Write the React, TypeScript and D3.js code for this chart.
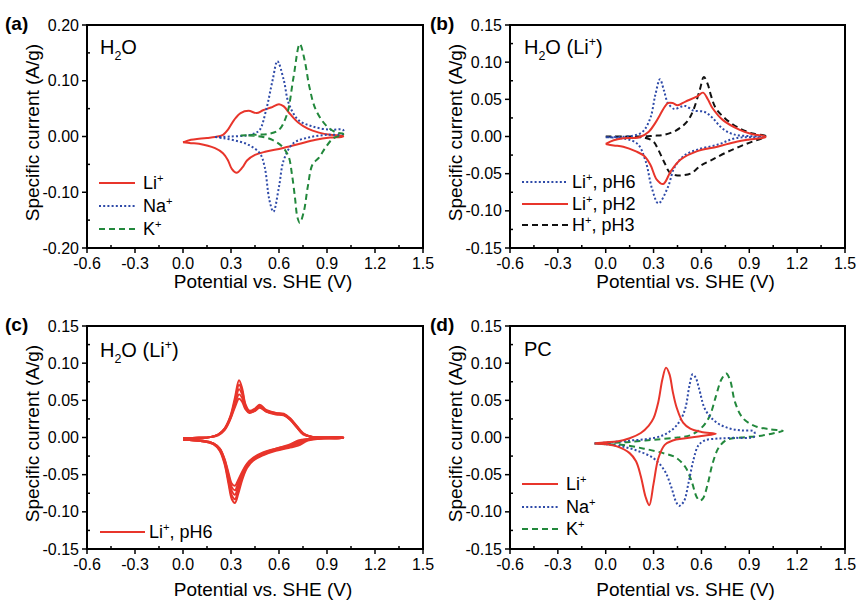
import React, { useEffect, useRef } from 'react';
import * as d3 from 'd3';

type Pt = [number, number];
type Part = [string, 'n' | 'sup' | 'sub'];

const W = 861;
const H = 603;
const FONT = "'Liberation Sans', Arial, Helvetica, sans-serif";

const RED = '#e8352b';
const BLUE = '#2e4aa8';
const GREEN = '#22883c';
const BLACK = '#111111';
const DOT = '2,2.2';
const DASH = '6,4';

const xTicks = [-0.6, -0.3, 0, 0.3, 0.6, 0.9, 1.2, 1.5];
const yTicksWide = [-0.2, -0.1, 0, 0.1, 0.2];
const yTicksNarrow = [-0.15, -0.1, -0.05, 0, 0.05, 0.1, 0.15];

// (a) H2O, Li+ / Na+ / K+  -- [potential V, current A/g], anodic sweep then cathodic back
const aLi: Pt[] = [
  [0.0, -0.0105], [0.05, -0.006], [0.1, -0.004], [0.15, -0.0025], [0.2, -0.001], [0.25, 0.003],
  [0.28, 0.012], [0.32, 0.03], [0.36, 0.042], [0.41, 0.046], [0.46, 0.042], [0.5, 0.047],
  [0.55, 0.052], [0.6, 0.058], [0.63, 0.054], [0.67, 0.04], [0.72, 0.025], [0.78, 0.014],
  [0.85, 0.007], [0.92, 0.003], [1.0, 0.001],
  [1.0, 0.0], [0.92, -0.002], [0.83, -0.006], [0.73, -0.013], [0.62, -0.021], [0.52, -0.027],
  [0.45, -0.033], [0.4, -0.043], [0.37, -0.056], [0.335, -0.065], [0.305, -0.058], [0.28, -0.042],
  [0.25, -0.03], [0.2, -0.021], [0.1, -0.013], [0.05, -0.012], [0.0, -0.0105],
];
const aNa: Pt[] = [
  [0.2, -0.001], [0.3, 0.0], [0.4, 0.002], [0.45, 0.006], [0.48, 0.012], [0.52, 0.048],
  [0.56, 0.101], [0.59, 0.135], [0.63, 0.101], [0.66, 0.06], [0.72, 0.03], [0.81, 0.018],
  [0.92, 0.012], [1.0, 0.012],
  [1.0, 0.005], [0.9, 0.003], [0.79, -0.0015], [0.69, -0.012], [0.63, -0.042], [0.6, -0.09],
  [0.565, -0.135], [0.54, -0.114], [0.51, -0.054], [0.48, -0.03], [0.41, -0.015], [0.33, -0.0075],
  [0.25, -0.003], [0.2, -0.001],
];
const aK: Pt[] = [
  [0.36, 0.002], [0.45, 0.003], [0.54, 0.005], [0.6, 0.012], [0.65, 0.04], [0.69, 0.105],
  [0.73, 0.166], [0.76, 0.137], [0.79, 0.089], [0.83, 0.048], [0.9, 0.018], [0.96, 0.007],
  [1.0, 0.005],
  [1.0, 0.003], [0.94, -0.003], [0.89, -0.02], [0.85, -0.038], [0.81, -0.05], [0.78, -0.09],
  [0.755, -0.135], [0.73, -0.155], [0.715, -0.145], [0.7, -0.11], [0.68, -0.066], [0.66, -0.036],
  [0.62, -0.018], [0.55, -0.005], [0.46, 0.001], [0.36, 0.002],
];

// (b) H2O (Li+), pH series
const bPH6: Pt[] = [
  [0.0, -0.001], [0.1, -0.0005], [0.17, 0.001], [0.23, 0.006], [0.28, 0.025], [0.31, 0.055],
  [0.34, 0.077], [0.365, 0.062], [0.39, 0.045], [0.43, 0.037], [0.47, 0.04], [0.5, 0.041],
  [0.55, 0.035], [0.62, 0.033], [0.67, 0.025], [0.73, 0.011], [0.8, 0.003], [0.9, 0.0005], [1.0, 0.0],
  [1.0, -0.0005], [0.82, -0.002], [0.7, -0.011], [0.57, -0.018], [0.49, -0.026], [0.43, -0.042],
  [0.39, -0.068], [0.33, -0.09], [0.29, -0.07], [0.25, -0.033], [0.2, -0.01], [0.12, -0.003], [0.0, -0.001],
];
const bPH2: Pt[] = [
  [0.0, -0.01], [0.05, -0.005], [0.11, -0.0025], [0.21, -0.001], [0.27, 0.0065], [0.31, 0.018],
  [0.34, 0.029], [0.37, 0.04], [0.39, 0.045], [0.42, 0.045], [0.45, 0.042], [0.5, 0.047],
  [0.57, 0.0535], [0.61, 0.059], [0.64, 0.05], [0.67, 0.038], [0.735, 0.022], [0.84, 0.009],
  [0.92, 0.003], [1.0, 0.0],
  [1.0, -0.001], [0.9, -0.004], [0.82, -0.007], [0.7, -0.0137], [0.57, -0.02], [0.47, -0.031],
  [0.41, -0.046], [0.36, -0.064], [0.32, -0.058], [0.28, -0.038], [0.24, -0.026], [0.19, -0.02],
  [0.11, -0.0137], [0.05, -0.012], [0.0, -0.01],
];
const bH3: Pt[] = [
  [0.0, 0.0], [0.15, 0.0], [0.23, 0.0], [0.3, 0.001], [0.36, 0.002], [0.44, 0.008], [0.51, 0.02],
  [0.55, 0.036], [0.59, 0.063], [0.615, 0.08], [0.64, 0.07], [0.66, 0.055], [0.69, 0.038],
  [0.75, 0.024], [0.83, 0.012], [0.92, 0.004], [1.0, 0.001],
  [1.0, 0.0], [0.88, -0.01], [0.76, -0.021], [0.66, -0.032], [0.59, -0.04], [0.54, -0.049],
  [0.49, -0.052], [0.44, -0.052], [0.4, -0.048], [0.37, -0.036], [0.33, -0.018], [0.3, -0.007],
  [0.25, -0.002], [0.15, -0.0005], [0.0, 0.0],
];

// (c) repeated cycles, pH6 -- shared potentials, one current list per cycle
const cycV = [
  0.0, 0.1, 0.17, 0.22, 0.26, 0.295, 0.325, 0.35, 0.37, 0.39, 0.415, 0.45, 0.48, 0.52, 0.58, 0.63,
  0.67, 0.71, 0.75, 0.8, 0.88, 1.0,
  1.0, 0.88, 0.78, 0.72, 0.66, 0.58, 0.5, 0.44, 0.4, 0.37, 0.345, 0.325, 0.305, 0.285, 0.26, 0.23,
  0.19, 0.12, 0.0,
];
const cyc1 = [
  -0.001, -0.0005, 0.0005, 0.004, 0.012, 0.028, 0.054, 0.077, 0.066, 0.045, 0.036, 0.039, 0.044,
  0.037, 0.033, 0.032, 0.026, 0.016, 0.006, 0.001, 0.0, 0.0,
  -0.0005, -0.001, -0.004, -0.011, -0.014, -0.018, -0.024, -0.031, -0.041, -0.057, -0.076, -0.088,
  -0.083, -0.063, -0.036, -0.018, -0.009, -0.005, -0.003,
];
const cyc2 = [
  -0.001, -0.0005, 0.0005, 0.004, 0.012, 0.027, 0.05, 0.071, 0.062, 0.043, 0.035, 0.038, 0.043,
  0.036, 0.033, 0.031, 0.025, 0.015, 0.005, 0.001, 0.0, 0.0,
  -0.0005, -0.001, -0.003, -0.009, -0.013, -0.017, -0.023, -0.03, -0.039, -0.054, -0.071, -0.083,
  -0.078, -0.059, -0.034, -0.017, -0.009, -0.005, -0.003,
];
const cyc3 = [
  -0.001, -0.0005, 0.0005, 0.004, 0.011, 0.026, 0.047, 0.065, 0.058, 0.041, 0.034, 0.037, 0.042,
  0.036, 0.032, 0.031, 0.025, 0.015, 0.005, 0.001, 0.0, 0.0,
  -0.0005, -0.001, -0.003, -0.007, -0.012, -0.016, -0.022, -0.029, -0.037, -0.051, -0.066, -0.077,
  -0.072, -0.055, -0.032, -0.016, -0.008, -0.005, -0.003,
];
const cyc4 = [
  -0.001, -0.0005, 0.0005, 0.004, 0.011, 0.025, 0.044, 0.058, 0.053, 0.04, 0.034, 0.036, 0.041,
  0.035, 0.032, 0.03, 0.024, 0.014, 0.005, 0.001, 0.0, 0.0,
  -0.0005, -0.001, -0.002, -0.005, -0.011, -0.015, -0.021, -0.028, -0.036, -0.048, -0.061, -0.071,
  -0.067, -0.051, -0.03, -0.015, -0.008, -0.004, -0.003,
];
const cyc5 = [
  -0.001, -0.0005, 0.0005, 0.003, 0.01, 0.024, 0.041, 0.052, 0.048, 0.038, 0.033, 0.036, 0.04,
  0.035, 0.031, 0.03, 0.024, 0.014, 0.004, 0.001, 0.0, 0.0,
  -0.0005, -0.001, -0.002, -0.004, -0.01, -0.015, -0.02, -0.027, -0.035, -0.046, -0.057, -0.065,
  -0.062, -0.048, -0.029, -0.015, -0.008, -0.004, -0.003,
];

// (d) PC, Li+ / Na+ / K+
const dLi: Pt[] = [
  [-0.07, -0.008], [0.0, -0.0065], [0.07, -0.0055], [0.15, -0.001], [0.22, 0.006], [0.27, 0.016],
  [0.3, 0.026], [0.33, 0.048], [0.355, 0.078], [0.378, 0.094], [0.4, 0.085], [0.42, 0.062],
  [0.445, 0.04], [0.485, 0.02], [0.53, 0.012], [0.6, 0.0075], [0.69, 0.005],
  [0.6, 0.002], [0.5, -0.001], [0.42, -0.004], [0.37, -0.01], [0.33, -0.028], [0.3, -0.062],
  [0.273, -0.091], [0.25, -0.08], [0.22, -0.052], [0.19, -0.032], [0.15, -0.021], [0.07, -0.012],
  [0.0, -0.009], [-0.07, -0.008],
];
const dNa: Pt[] = [
  [-0.07, -0.008], [0.05, -0.006], [0.15, -0.004], [0.26, -0.002], [0.36, 0.003], [0.43, 0.013],
  [0.47, 0.024], [0.5, 0.04], [0.525, 0.07], [0.545, 0.085], [0.565, 0.08], [0.585, 0.066],
  [0.625, 0.037], [0.69, 0.021], [0.77, 0.0125], [0.85, 0.0095], [0.93, 0.008],
  [0.93, 0.001], [0.8, -0.0005], [0.7, -0.0015], [0.62, -0.004], [0.58, -0.011], [0.55, -0.03],
  [0.52, -0.06], [0.49, -0.086], [0.46, -0.092], [0.44, -0.086], [0.41, -0.066], [0.37, -0.045],
  [0.3, -0.028], [0.2, -0.018], [0.1, -0.012], [0.0, -0.009], [-0.07, -0.008],
];
const dK: Pt[] = [
  [-0.07, -0.008], [0.05, -0.007], [0.15, -0.006], [0.3, -0.003], [0.45, 0.0], [0.53, 0.003],
  [0.6, 0.013], [0.65, 0.028], [0.69, 0.055], [0.725, 0.078], [0.755, 0.086], [0.78, 0.077],
  [0.81, 0.048], [0.86, 0.026], [0.94, 0.015], [1.03, 0.011], [1.11, 0.009],
  [1.06, 0.006], [0.96, 0.002], [0.85, 0.0], [0.76, -0.003], [0.71, -0.013], [0.67, -0.035],
  [0.64, -0.062], [0.61, -0.082], [0.59, -0.085], [0.57, -0.08], [0.54, -0.06], [0.5, -0.04],
  [0.44, -0.027], [0.36, -0.021], [0.24, -0.015], [0.11, -0.01], [0.0, -0.009], [-0.07, -0.008],
];

const zipCycle = (cur: number[]): Pt[] => cycV.map((v, i) => [v, cur[i]]);

const liPlus: Part[] = [['Li', 'n'], ['+', 'sup']];
const naPlus: Part[] = [['Na', 'n'], ['+', 'sup']];
const kPlus: Part[] = [['K', 'n'], ['+', 'sup']];
const h2o: Part[] = [['H', 'n'], ['2', 'sub'], ['O', 'n']];
const h2oLi: Part[] = [['H', 'n'], ['2', 'sub'], ['O (Li', 'n'], ['+', 'sup'], [')', 'n']];

const panels = [
  {
    tag: '(a)', tagX: 5, x0: 87, x1: 423, y0: 25, y1: 248, yDomain: [-0.2, 0.2], yTicks: yTicksWide,
    titleDy: 40, note: h2o, noteX: 100, noteY: 54,
    series: [
      { data: aLi, color: RED, dash: null },
      { data: aNa, color: BLUE, dash: DOT },
      { data: aK, color: GREEN, dash: DASH },
    ],
    legend: { lx0: 99, lx1: 135, tx: 143, rows: [183, 206, 229],
      items: [
        { parts: liPlus, color: RED, dash: null },
        { parts: naPlus, color: BLUE, dash: DOT },
        { parts: kPlus, color: GREEN, dash: DASH },
      ] },
  },
  {
    tag: '(b)', tagX: 430, x0: 510, x1: 845, y0: 25, y1: 248, yDomain: [-0.15, 0.15], yTicks: yTicksNarrow,
    titleDy: 40, note: h2oLi, noteX: 524, noteY: 54,
    series: [
      { data: bH3, color: BLACK, dash: DASH },
      { data: bPH6, color: BLUE, dash: DOT },
      { data: bPH2, color: RED, dash: null },
    ],
    legend: { lx0: 522, lx1: 568, tx: 572, rows: [182, 204, 225],
      items: [
        { parts: [['Li', 'n'], ['+', 'sup'], [', pH6', 'n']] as Part[], color: BLUE, dash: DOT },
        { parts: [['Li', 'n'], ['+', 'sup'], [', pH2', 'n']] as Part[], color: RED, dash: null },
        { parts: [['H', 'n'], ['+', 'sup'], [', pH3', 'n']] as Part[], color: BLACK, dash: DASH },
      ] },
  },
  {
    tag: '(c)', tagX: 5, x0: 87, x1: 423, y0: 326, y1: 549, yDomain: [-0.15, 0.15], yTicks: yTicksNarrow,
    titleDy: 47, note: h2oLi, noteX: 100, noteY: 357,
    series: [cyc1, cyc2, cyc3, cyc4, cyc5].map(c => ({ data: zipCycle(c), color: RED, dash: null })),
    legend: { lx0: 100, lx1: 145, tx: 149, rows: [532],
      items: [{ parts: [['Li', 'n'], ['+', 'sup'], [', pH6', 'n']] as Part[], color: RED, dash: null }] },
  },
  {
    tag: '(d)', tagX: 430, x0: 510, x1: 845, y0: 326, y1: 549, yDomain: [-0.15, 0.15], yTicks: yTicksNarrow,
    titleDy: 47, note: [['PC', 'n']] as Part[], noteX: 524, noteY: 356,
    series: [
      { data: dK, color: GREEN, dash: DASH },
      { data: dNa, color: BLUE, dash: DOT },
      { data: dLi, color: RED, dash: null },
    ],
    legend: { lx0: 522, lx1: 558, tx: 566, rows: [484, 507, 529],
      items: [
        { parts: liPlus, color: RED, dash: null },
        { parts: naPlus, color: BLUE, dash: DOT },
        { parts: kPlus, color: GREEN, dash: DASH },
      ] },
  },
];

function rich(sel: any, parts: Part[], size: number) {
  let shift = 0;
  parts.forEach(([t, k]) => {
    const target = k === 'sup' ? -size * 0.38 : k === 'sub' ? size * 0.28 : 0;
    sel.append('tspan')
      .attr('dy', target - shift)
      .attr('font-size', k === 'n' ? size : size * 0.62)
      .text(t);
    shift = target;
  });
}

const App = () => {
  const ref = useRef<SVGSVGElement>(null);

  useEffect(() => {
    const svg = d3.select(ref.current);
    svg.selectAll('*').remove();

    panels.forEach((p, i) => {
      const x = d3.scaleLinear().domain([-0.6, 1.5]).range([p.x0, p.x1]);
      const y = d3.scaleLinear().domain(p.yDomain).range([p.y1, p.y0]);
      const g = svg.append('g');

      g.append('clipPath').attr('id', `clip${i}`)
        .append('rect')
        .attr('x', p.x0).attr('y', p.y0)
        .attr('width', p.x1 - p.x0).attr('height', p.y1 - p.y0);

      const line = d3.line<Pt>()
        .x(d => x(d[0]))
        .y(d => y(d[1]))
        .curve(d3.curveCatmullRom.alpha(0.5));

      p.series.forEach(s => {
        g.append('path')
          .attr('d', line(s.data))
          .attr('fill', 'none')
          .attr('stroke', s.color)
          .attr('stroke-width', 2)
          .attr('stroke-linejoin', 'round')
          .attr('stroke-dasharray', s.dash)
          .attr('clip-path', `url(#clip${i})`);
      });

      // frame
      g.append('rect')
        .attr('x', p.x0).attr('y', p.y0)
        .attr('width', p.x1 - p.x0).attr('height', p.y1 - p.y0)
        .attr('fill', 'none').attr('stroke', '#000').attr('stroke-width', 2);

      // x ticks: major outward, minor inward
      xTicks.forEach((t, k) => {
        g.append('line')
          .attr('x1', x(t)).attr('x2', x(t))
          .attr('y1', p.y1).attr('y2', p.y1 + 5)
          .attr('stroke', '#000').attr('stroke-width', 1.5);
        g.append('text')
          .attr('x', x(t)).attr('y', p.y1 + 21)
          .attr('text-anchor', 'middle')
          .attr('font-size', 16)
          .text(t.toFixed(1));
        if (k < xTicks.length - 1) {
          const m = (t + xTicks[k + 1]) / 2;
          g.append('line')
            .attr('x1', x(m)).attr('x2', x(m))
            .attr('y1', p.y1).attr('y2', p.y1 - 3)
            .attr('stroke', '#000').attr('stroke-width', 1.5);
        }
      });

      // y ticks
      p.yTicks.forEach((t, k) => {
        g.append('line')
          .attr('x1', p.x0 - 5).attr('x2', p.x0)
          .attr('y1', y(t)).attr('y2', y(t))
          .attr('stroke', '#000').attr('stroke-width', 1.5);
        g.append('text')
          .attr('x', p.x0 - 8).attr('y', y(t))
          .attr('dy', '0.35em')
          .attr('text-anchor', 'end')
          .attr('font-size', 16)
          .text(t.toFixed(2));
        if (k < p.yTicks.length - 1) {
          const m = (t + p.yTicks[k + 1]) / 2;
          g.append('line')
            .attr('x1', p.x0).attr('x2', p.x0 + 3)
            .attr('y1', y(m)).attr('y2', y(m))
            .attr('stroke', '#000').attr('stroke-width', 1.5);
        }
      });

      // axis titles
      g.append('text')
        .attr('x', (p.x0 + p.x1) / 2 + 8).attr('y', p.y1 + p.titleDy)
        .attr('text-anchor', 'middle')
        .attr('font-size', 19)
        .text('Potential vs. SHE (V)');
      g.append('text')
        .attr('transform', `translate(${p.x0 - 48},${(p.y0 + p.y1) / 2 - 4}) rotate(-90)`)
        .attr('text-anchor', 'middle')
        .attr('font-size', 19)
        .text('Specific current (A/g)');

      // panel tag
      g.append('text')
        .attr('x', p.tagX).attr('y', p.y0 + 5)
        .attr('font-size', 19)
        .attr('font-weight', 'bold')
        .text(p.tag);

      // annotation
      rich(g.append('text').attr('x', p.noteX).attr('y', p.noteY), p.note, 20);

      // legend
      p.legend.items.forEach((it, k) => {
        const ry = p.legend.rows[k];
        g.append('line')
          .attr('x1', p.legend.lx0).attr('x2', p.legend.lx1)
          .attr('y1', ry).attr('y2', ry)
          .attr('stroke', it.color)
          .attr('stroke-width', 2)
          .attr('stroke-dasharray', it.dash);
        rich(g.append('text').attr('x', p.legend.tx).attr('y', ry + 6), it.parts, 18);
      });
    });
  }, []);

  return (
    <svg
      ref={ref}
      width={W}
      height={H}
      style={{ position: 'absolute', left: 0, top: 0, background: '#fff', fontFamily: FONT }}
    />
  );
};

export default App;
